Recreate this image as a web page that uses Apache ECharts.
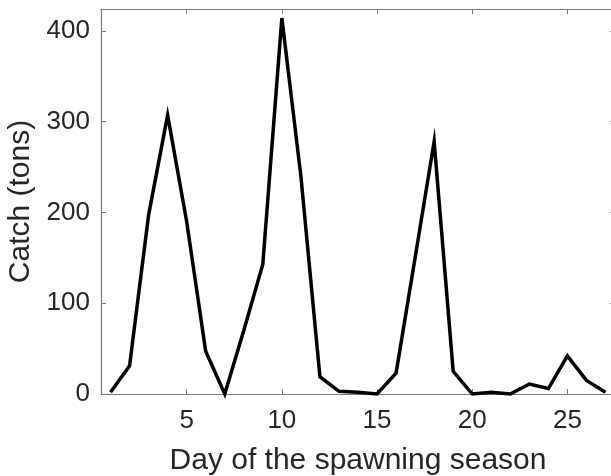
<!DOCTYPE html>
<html>
<head>
<meta charset="utf-8">
<script src="https://cdn.jsdelivr.net/npm/echarts@6/dist/echarts.min.js"></script>
<style>
html,body{margin:0;padding:0;background:#fff;}
#chart{width:611px;height:476px;}
</style>
</head>
<body>
<div id="chart"></div>
<script>
const days = [1,2,3,4,5,6,7,8,9,10,11,12,13,14,15,16,17,18,19,20,21,22,23,24,25,26,27];
const catchTons = [2,31,197,307,190,47,0,70,143,414,240,19,3,2,0,23,150,278,25,0,2,0,11,6,42,15,2];
const xTicks = [5,10,15,20,25];
const yTicks = [0,100,200,300,400];
const xTitle = 'Day of the spawning season';
const yTitle = 'Catch (tons)';

const chart = echarts.init(document.getElementById('chart'), null, {renderer:'canvas'});
const font = 'Liberation Sans, Arial, sans-serif';
const axisGrey = '#7a7a7a';
const textCol = '#262626';
const data = days.map((d,i)=>[d, catchTons[i]]);

function xAx(pos, show){
  return {
    type:'value', position:pos, min:0.5, max:27.5,
    axisLine:{show:true, onZero:false, lineStyle:{color:axisGrey, width:1.2}},
    axisTick:{show:true, inside:true, length:5, customValues:xTicks, lineStyle:{color:axisGrey}},
    axisLabel:{show:show, customValues:xTicks, color:textCol, fontFamily:font, fontSize:26, margin:14},
    splitLine:{show:false},
    name: show ? xTitle : '', nameLocation:'middle', nameGap:52,
    nameTextStyle:{color:textCol, fontFamily:font, fontSize:30}
  };
}
function yAx(pos, show){
  return {
    type:'value', position:pos, min:0, max:424,
    axisLine:{show:show, onZero:false, lineStyle:{color:axisGrey, width:1.2}},
    axisTick:{show:true, inside:true, length:5, customValues:yTicks, lineStyle:{color:axisGrey}},
    axisLabel:{show:show, customValues:yTicks, color:textCol, fontFamily:font, fontSize:26, margin:11},
    splitLine:{show:false},
    name: show ? yTitle : '', nameLocation:'middle', nameGap:60,
    nameTextStyle:{color:textCol, fontFamily:font, fontSize:30}
  };
}

chart.setOption({
  backgroundColor:'#fff',
  animation:false,
  grid:{left:101, top:9, width:514, height:385, outerBoundsMode:'none', containLabel:false},
  xAxis:[xAx('bottom', true), xAx('top', false)],
  yAxis:[yAx('left', true), yAx('right', false)],
  series:[{
    type:'line', xAxisIndex:0, yAxisIndex:0, data:data,
    showSymbol:false, symbol:'none',
    lineStyle:{color:'#000', width:3.5, join:'miter'},
    clip:false
  }]
});
</script>
</body>
</html>
